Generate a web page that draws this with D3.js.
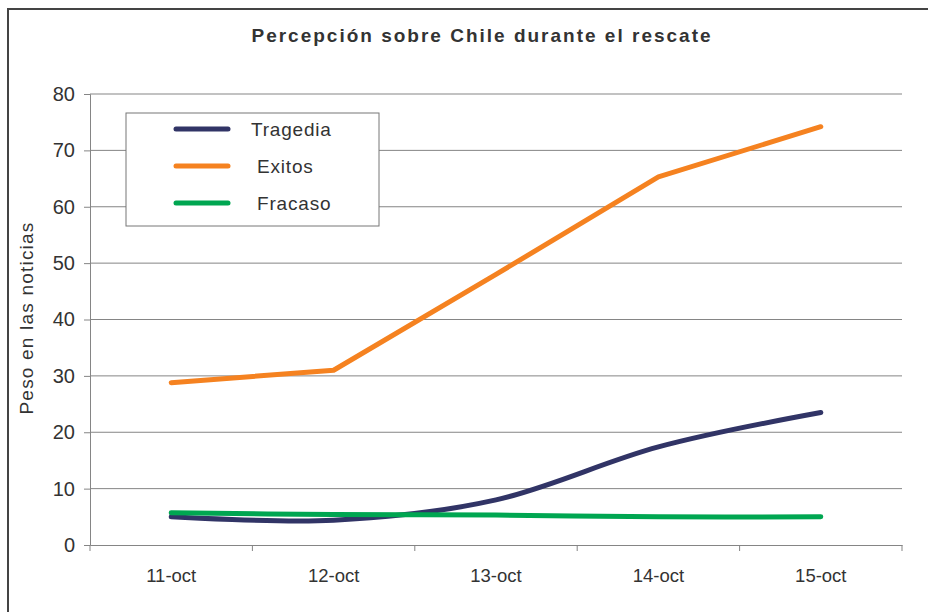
<!DOCTYPE html>
<html>
<head>
<meta charset="utf-8">
<script src="https://cdn.jsdelivr.net/npm/d3@7"></script>
<style>
  body { margin: 0; background: #fff; }
  text { font-family: "Liberation Sans", Arial, sans-serif; fill: #333; }
</style>
</head>
<body>
<svg id="chart" width="928" height="612"></svg>
<script>
// data
var days = ["11-oct", "12-oct", "13-oct", "14-oct", "15-oct"];
var tragedia = [5.0, 4.4, 8.0, 17.4, 23.5];
var exitos = [28.8, 31.0, 48.0, 65.3, 74.2];
var fracaso = [5.7, 5.4, 5.3, 5.0, 5.0];
var yTicks = [0, 10, 20, 30, 40, 50, 60, 70, 80];

var series = [
  { name: "Tragedia", label: "Tragedia", values: tragedia, color: "#313466", smooth: true },
  { name: "Exitos", label: " Exitos", values: exitos, color: "#f58220", smooth: false },
  { name: "Fracaso", label: " Fracaso", values: fracaso, color: "#00a651", smooth: true }
];

var svg = d3.select("#chart");

//outer frame
svg.append("rect")
  .attr("x", 8).attr("y", 9)
  .attr("width", 940).attr("height", 620)
  .attr("fill", "none").attr("stroke", "#444").attr("stroke-width", 2);

var mLeft = 90, mRight = 902, mTop = 94, mBottom = 545;

var x = d3.scaleBand().domain(days).range([mLeft, mRight]);
var y = d3.scaleLinear().domain([0, 80]).range([mBottom, mTop]);

//title
svg.append("text")
  .attr("x", 482).attr("y", 42)
  .attr("text-anchor", "middle")
  .style("font-size", "19px").style("font-weight", "bold")
  .style("letter-spacing", "2px")
  .text("Percepción sobre Chile durante el rescate");

//gridlines
svg.append("g")
  .selectAll("line")
  .data(yTicks.filter(function(d) { return d > 0; }))
  .enter().append("line")
  .attr("x1", mLeft).attr("x2", mRight)
  .attr("y1", function(d) { return y(d); })
  .attr("y2", function(d) { return y(d); })
  .attr("stroke", "#858585").attr("stroke-width", 1);

//y axis
var yAxis = svg.append("g")
  .attr("transform", "translate(" + mLeft + ",0)")
  .call(d3.axisLeft(y).tickValues(yTicks).tickSize(6).tickPadding(9));
yAxis.select(".domain").attr("stroke", "#858585");
yAxis.selectAll(".tick line").attr("stroke", "#858585");
yAxis.selectAll("text").style("font-size", "20px").attr("fill", "#333").style("font-family", "Liberation Sans, Arial, sans-serif");

//x axis
var xAxis = svg.append("g")
  .attr("transform", "translate(0," + mBottom + ")")
  .call(d3.axisBottom(x).tickSize(0).tickPadding(24));
xAxis.select(".domain").attr("stroke", "#858585");
xAxis.selectAll("text").style("font-size", "18.5px").attr("fill", "#333").style("font-family", "Liberation Sans, Arial, sans-serif");
//tick marks at band edges
xAxis.selectAll(".edge")
  .data(days.concat(["end"]))
  .enter().append("line")
  .attr("class", "edge")
  .attr("x1", function(d, i) { return mLeft + i * x.step(); })
  .attr("x2", function(d, i) { return mLeft + i * x.step(); })
  .attr("y1", 0).attr("y2", 6)
  .attr("stroke", "#858585");

//y label
svg.append("text")
  .attr("transform", "translate(33,318) rotate(-90)")
  .attr("text-anchor", "middle")
  .style("font-size", "19px")
  .style("letter-spacing", "1.2px")
  .text("Peso en las noticias");

//lines
var cx = function(d, i) { return x(days[i]) + x.bandwidth() / 2; };
series.forEach(function(s) {
  var line = d3.line()
    .x(cx)
    .y(function(d) { return y(d); })
    .curve(s.smooth ? d3.curveCatmullRom.alpha(0) : d3.curveLinear);
  svg.append("path")
    .datum(s.values)
    .attr("d", line)
    .attr("fill", "none")
    .attr("stroke", s.color)
    .attr("stroke-width", 5)
    .attr("stroke-linecap", "round")
    .attr("stroke-linejoin", "round");
});

//legend
var lg = svg.append("g").attr("transform", "translate(126,113)");
lg.append("rect")
  .attr("width", 253).attr("height", 113)
  .attr("fill", "#fff").attr("stroke", "#777").attr("stroke-width", 1);
var items = lg.selectAll(".item")
  .data(series)
  .enter().append("g")
  .attr("transform", function(d, i) { return "translate(0," + (16 + i * 37) + ")"; });
items.append("line")
  .attr("x1", 50).attr("x2", 102)
  .attr("stroke", function(d) { return d.color; })
  .attr("stroke-width", 5)
  .attr("stroke-linecap", "round");
items.append("text")
  .attr("x", 125).attr("y", 7)
  .style("font-size", "19px")
  .style("letter-spacing", "0.8px")
  .style("white-space", "pre")
  .text(function(d) { return d.label; });
</script>
</body>
</html>
